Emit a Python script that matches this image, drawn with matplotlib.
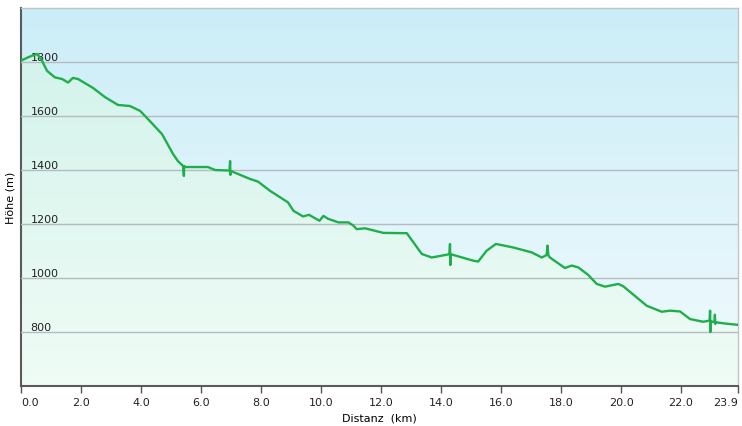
import matplotlib.pyplot as plt
import numpy as np
from matplotlib.colors import LinearSegmentedColormap

# profile: distance (km), elevation (m)
dist_km = [0.0, 0.25, 0.53, 0.67, 0.87, 1.13, 1.37, 1.57, 1.73, 1.9, 2.4, 2.8,
           3.23, 3.63, 3.97, 4.23, 4.7, 5.07, 5.23, 5.4, 5.43, 5.44, 5.46, 5.97,
           6.23, 6.47, 6.95, 6.97, 6.98, 7.0, 7.63, 7.9, 8.3, 8.9, 9.08, 9.4,
           9.6, 9.95, 10.08, 10.24, 10.58, 10.91, 11.08, 11.19, 11.47, 12.08,
           12.86, 13.08, 13.36, 13.69, 14.28, 14.3, 14.31, 14.33, 15.08, 15.24,
           15.52, 15.83, 15.97, 16.41, 17.02, 17.36, 17.52, 17.55, 17.58, 17.63,
           18.13, 18.36, 18.58, 18.91, 19.19, 19.47, 19.91, 20.08, 20.86, 21.36,
           21.63, 21.97, 22.3, 22.74, 22.95, 22.97, 22.98, 23.0, 23.12, 23.13,
           23.14, 23.16, 23.5, 23.86, 23.9]
elev_m = [1805, 1818, 1830, 1811, 1767, 1743, 1737, 1724, 1741, 1737, 1704, 1670,
          1641, 1637, 1619, 1589, 1533, 1459, 1433, 1415, 1378, 1415, 1411, 1411,
          1411, 1400, 1398, 1433, 1382, 1396, 1367, 1357, 1323, 1280, 1249, 1228,
          1234, 1212, 1230, 1219, 1206, 1206, 1194, 1181, 1184, 1167,
          1166, 1132, 1089, 1076, 1088, 1126, 1048, 1088, 1064, 1061,
          1101, 1126, 1123, 1113, 1095, 1076, 1085, 1120, 1083, 1076,
          1037, 1046, 1039, 1011, 978, 968, 978, 969, 897, 875,
          879, 876, 848, 838, 842, 879, 800, 840, 836, 864,
          830, 836, 831, 827, 826]

y_ticks = [800, 1000, 1200, 1400, 1600, 1800]
x_ticks = [0, 2, 4, 6, 8, 10, 12, 14, 16, 18, 20, 22, 23.9]
x_labels = ["0.0", "2.0", "4.0", "6.0", "8.0", "10.0", "12.0", "14.0",
            "16.0", "18.0", "20.0", "22.0", "23.9"]

plt.rcParams['font.family'] = ['DejaVu Sans']

fig = plt.figure(figsize=(7.42, 4.27), dpi=100)
ax = fig.add_axes([21 / 742, 40 / 427, 717 / 742, 378 / 427])
ax.set_xlim(0, 23.9)
ax.set_ylim(600, 2000)
ext = (0, 23.9, 600, 2000)
grad = np.linspace(0, 1, 256).reshape(-1, 1)

# sky gradient behind everything
sky = LinearSegmentedColormap.from_list("sky", ["#f1fbfd", "#cbedf8"])
ax.imshow(grad, cmap=sky, aspect='auto', origin='lower', extent=ext, zorder=0)

# green gradient under the profile, clipped to the area below the line
area = ax.fill_between(dist_km, elev_m, 600, color='none', linewidth=0)
green = LinearSegmentedColormap.from_list("green", ["#f0fcf6", "#cff2ea"])
im = ax.imshow(grad, cmap=green, aspect='auto', origin='lower', extent=ext,
               zorder=1)
im.set_clip_path(area.get_paths()[0], transform=ax.transData)

ax.plot(dist_km, elev_m, color="#1fae4b", linewidth=1.7, zorder=3)

ax.set_yticks(y_ticks)
ax.set_yticklabels([str(v) for v in y_ticks])
ax.grid(axis='y', color="#b3bcc0", linewidth=1, zorder=2)
ax.set_axisbelow(False)
ax.tick_params(axis='y', length=0, pad=-7, labelsize=8, labelcolor="#222222")
for lab in ax.get_yticklabels():
    lab.set_horizontalalignment('left')
    lab.set_verticalalignment('bottom')

ax.set_xticks(x_ticks)
ax.set_xticklabels(x_labels)
ax.tick_params(axis='x', length=5, width=1, color="#555555", pad=3,
               labelsize=8, labelcolor="#222222")
xl = ax.get_xticklabels()
xl[0].set_horizontalalignment('left')
xl[-1].set_horizontalalignment('right')

for side in ('top', 'right'):
    ax.spines[side].set_color("#c4c4c4")
    ax.spines[side].set_linewidth(1)
for side in ('left', 'bottom'):
    ax.spines[side].set_color("#5a5a5a")
    ax.spines[side].set_linewidth(1.5)

ax.set_xlabel("Distanz  (km)", fontsize=8, labelpad=4)
ax.set_ylabel("Höhe (m)", fontsize=8, labelpad=4)

fig.savefig("out.png", dpi=100)
